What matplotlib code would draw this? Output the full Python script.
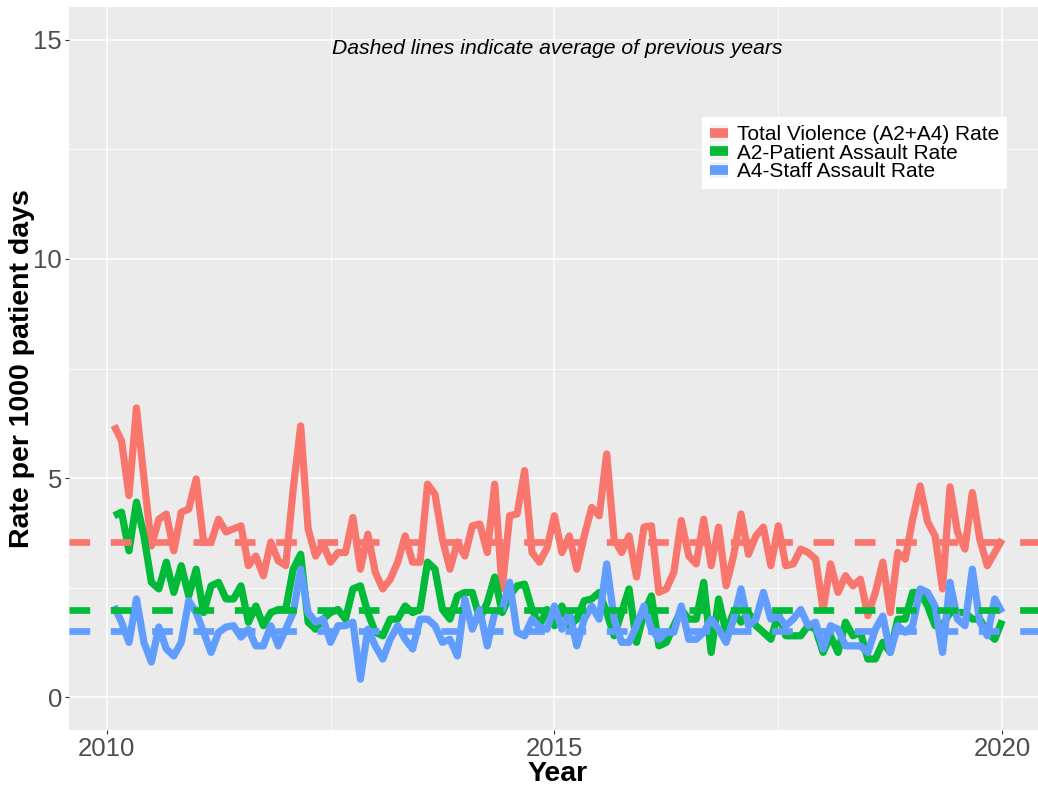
import numpy as np
import matplotlib
matplotlib.use("Agg")
import matplotlib.pyplot as plt
from matplotlib.lines import Line2D
from matplotlib.patches import Patch
from matplotlib.ticker import MultipleLocator

plt.rcParams['font.family'] = ['Liberation Sans', 'DejaVu Sans']

# Monthly data, Jan 2010 .. Dec 2019
start_year = 2010
total_rate = [6.2, 5.85, 4.6, 6.6, 5.0, 3.45, 4.06, 4.18, 3.34, 4.22, 4.29, 4.98,
              3.54, 3.54, 4.06, 3.77, 3.84, 3.91, 3.0, 3.22, 2.77, 3.54, 3.11, 3.0,
              4.75, 6.19, 3.84, 3.22, 3.5, 3.08, 3.3, 3.3, 4.1, 2.92, 3.72, 2.85,
              2.47, 2.69, 3.08, 3.68, 3.08, 3.08, 4.86, 4.63, 3.6, 2.92, 3.54, 3.22,
              3.91, 3.95, 3.3, 4.86, 2.47, 4.14, 4.18, 5.17, 3.3, 3.08, 3.4, 4.14,
              3.3, 3.68, 2.92, 3.68, 4.33, 4.14, 5.55, 3.6, 3.3, 3.68, 2.74, 3.88,
              3.91, 2.39, 2.47, 2.85, 4.03, 3.22, 3.04, 4.06, 3.0, 3.88, 2.54, 3.22,
              4.18, 3.26, 3.68, 3.88, 3.0, 3.91, 3.0, 3.04, 3.38, 3.3, 3.15, 2.0,
              3.04, 2.39, 2.77, 2.54, 2.69, 1.86, 2.39, 3.08, 1.93, 3.3, 3.15, 4.06,
              4.82, 4.0, 3.68, 2.47, 4.8, 3.77, 3.38, 4.67, 3.6, 3.0, 3.3, 3.6]
patient_rate = [4.14, 4.22, 3.34, 4.45, 3.68, 2.62, 2.47, 3.08, 2.39, 3.0, 2.31, 2.92,
                1.93, 2.54, 2.62, 2.24, 2.24, 2.54, 1.71, 2.08, 1.63, 1.93, 2.0, 2.0,
                2.92, 3.26, 1.71, 1.55, 1.78, 1.93, 2.0, 1.78, 2.47, 2.54, 1.93, 1.48,
                1.4, 1.78, 1.78, 2.08, 1.93, 2.0, 3.08, 2.92, 2.0, 1.78, 2.31, 2.39,
                2.39, 1.78, 2.16, 2.74, 1.93, 2.31, 2.54, 2.58, 2.0, 1.63, 2.0, 1.63,
                2.08, 1.63, 1.78, 2.2, 2.24, 2.39, 1.93, 1.4, 1.93, 2.47, 1.25, 1.93,
                2.31, 1.17, 1.25, 1.63, 2.0, 1.78, 1.78, 2.62, 1.02, 2.24, 1.48, 1.93,
                1.71, 1.93, 1.63, 1.48, 1.32, 1.9, 1.4, 1.4, 1.4, 1.63, 1.55, 1.02,
                1.4, 1.02, 1.71, 1.4, 1.48, 0.87, 0.87, 1.25, 1.02, 1.78, 1.78, 2.39,
                2.39, 2.08, 1.63, 1.63, 1.93, 1.93, 1.93, 1.78, 1.78, 1.48, 1.32, 1.75]
staff_rate = [2.08, 1.71, 1.25, 2.24, 1.25, 0.8, 1.6, 1.1, 0.94, 1.25, 2.2, 1.93,
              1.48, 1.02, 1.48, 1.6, 1.63, 1.37, 1.55, 1.17, 1.17, 1.63, 1.17, 1.55,
              1.93, 2.92, 1.93, 1.71, 1.78, 1.25, 1.63, 1.63, 1.71, 0.41, 1.55, 1.17,
              0.87, 1.32, 1.63, 1.32, 1.1, 1.78, 1.78, 1.63, 1.25, 1.32, 0.94, 2.24,
              1.55, 2.0, 1.17, 1.93, 2.0, 2.62, 1.48, 1.4, 1.78, 1.6, 1.55, 2.08,
              1.55, 1.93, 1.17, 1.78, 2.08, 1.78, 3.04, 1.78, 1.25, 1.25, 1.63, 2.08,
              1.55, 1.32, 1.48, 1.48, 2.08, 1.32, 1.32, 1.48, 1.78, 1.55, 1.25, 1.78,
              2.47, 1.63, 1.78, 2.39, 1.78, 1.85, 1.63, 1.78, 2.0, 1.63, 1.71, 1.1,
              1.63, 1.55, 1.17, 1.17, 1.17, 1.02, 1.55, 1.85, 1.02, 1.63, 1.48, 1.63,
              2.47, 2.39, 2.08, 1.02, 2.62, 1.78, 1.63, 2.92, 1.71, 1.4, 2.24, 1.93]

series_labels = ["Total Violence (A2+A4) Rate", "A2-Patient Assault Rate", "A4-Staff Assault Rate"]
series_colors = ["#F8766D", "#00BA38", "#619CFF"]
avg_previous = [3.55, 1.98, 1.52]

x_ticks = [2010, 2015, 2020]
y_ticks = [0, 5, 10, 15]

n = len(total_rate)
x = start_year + (np.arange(n) + 1) / 12.0

W, H = 1038, 788
fig = plt.figure(figsize=(W / 100, H / 100), dpi=100)
ax = fig.add_axes([69 / W, 1 - 730 / H, (1047 - 69) / W, (730 - 7) / H])
ax.set_facecolor("#EBEBEB")
for s in ax.spines.values():
    s.set_visible(False)

ax.set_xlim(2009.58, 2020.5)
ax.set_ylim(-0.75, 15.75)
ax.set_xticks(x_ticks)
ax.set_yticks(y_ticks)
ax.xaxis.set_minor_locator(MultipleLocator(2.5))
ax.yaxis.set_minor_locator(MultipleLocator(2.5))
ax.grid(which='major', color='white', linewidth=1.1)
ax.grid(which='minor', color='white', linewidth=0.55)
ax.set_axisbelow(True)
ax.tick_params(which='major', length=3, width=0.8, color='#333333',
               labelsize=18.5, labelcolor='#4D4D4D', pad=2)
ax.tick_params(which='minor', length=0)

for vals, col, lab in zip([total_rate, patient_rate, staff_rate], series_colors, series_labels):
    ax.plot(x, vals, color=col, linewidth=5.2, solid_joinstyle='round',
            solid_capstyle='butt', label=lab, zorder=3)

for val, col in zip(avg_previous, series_colors):
    ax.axhline(val, color=col, linewidth=4.8, linestyle=(0, (3.1, 3.1)),
               dash_capstyle='butt', zorder=4)

ax.set_xlabel("Year", fontsize=20.5, fontweight='bold', labelpad=0)
ax.set_ylabel("Rate per 1000 patient days", fontsize=20.5, fontweight='bold', labelpad=-1)

fig.text(557 / W, 1 - 48 / H, "Dashed lines indicate average of previous years",
         fontsize=15.2, style='italic', ha='center', va='center')

handles = [(Patch(facecolor='#F2F2F2', edgecolor='none'),
            Line2D([0], [0], color=c, linewidth=7, solid_capstyle='butt'))
           for c in series_colors]
leg = fig.legend(handles, series_labels, loc='upper left',
                 bbox_to_anchor=(702 / W, 1 - 117 / H), bbox_transform=fig.transFigure,
                 fontsize=15, frameon=True, fancybox=False, edgecolor='none',
                 facecolor='white', framealpha=1, handlelength=0.85, handleheight=0.85,
                 handletextpad=0.45, labelspacing=-0.05, borderpad=0.38, borderaxespad=0)

fig.savefig("out.png", dpi=100)
